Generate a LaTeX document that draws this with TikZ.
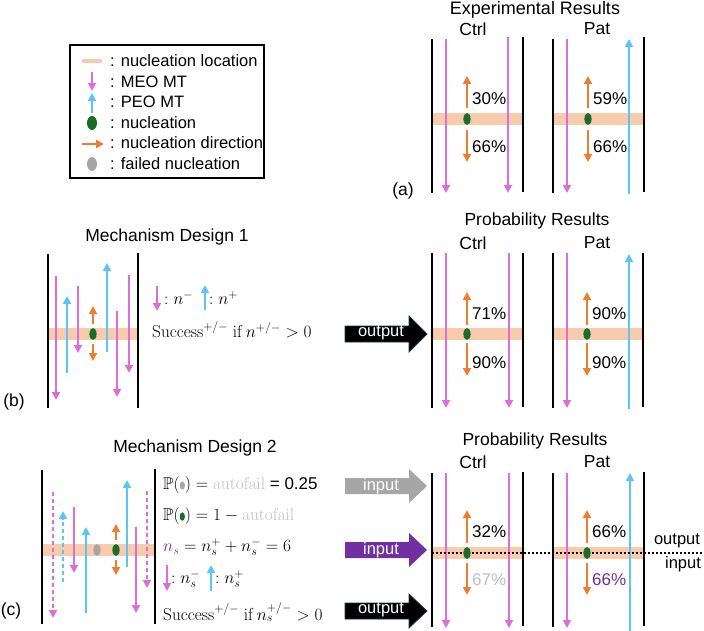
\documentclass[tikz,border=0pt]{standalone}
\usepackage{amsmath,amssymb}
\usepackage[no-math]{fontspec}
\setmainfont{Liberation Sans}
\usetikzlibrary{arrows.meta}
\definecolor{meoc}{HTML}{DA6FD6}
\definecolor{peoc}{HTML}{5CC5F2}
\definecolor{oric}{HTML}{ED7D31}
\definecolor{bandc}{HTML}{F8CBAD}
\definecolor{nucc}{HTML}{1B6B2A}
\definecolor{failc}{HTML}{A6A6A6}
\definecolor{afc}{HTML}{BFBFBF}
\definecolor{purc}{HTML}{7030A0}
\definecolor{arrowbd}{HTML}{1F3A4A}
\newcommand{\dotsym}[1]{\tikz[baseline=-3.8pt]\fill[#1] (0pt,0pt) ellipse (2.6pt and 4.2pt);}
\begin{document}
\begin{tikzpicture}[x=1pt,y=-1pt,
  wall/.style={line width=2pt,black},
  meo/.style={draw=meoc,line width=1.8pt,-{Triangle[width=8pt,length=8pt]}},
  peo/.style={draw=peoc,line width=1.8pt,-{Triangle[width=8pt,length=8pt]}},
  ndir/.style={draw=oric,line width=1.8pt,-{Triangle[width=8pt,length=8pt]}},
  dsh/.style={dash pattern=on 4pt off 3pt},
  lab/.style={font=\fontsize{16.5}{19}\selectfont, inner sep=0pt},
  ttl/.style={font=\fontsize{17.5}{20}\selectfont, inner sep=0pt},
  pct/.style={font=\fontsize{17}{20}\selectfont, inner sep=0pt, anchor=west},
  mth/.style={font=\fontsize{17}{20}\selectfont, inner sep=0pt, anchor=west},
  barrow/.style={line width=0.8pt},
]
\useasboundingbox (0,0) rectangle (704,631);

% ---------------- Legend ----------------
\draw[line width=2pt] (70,45) rectangle (264,178);
\draw[bandc,line width=4pt] (82,61) -- (102,61);
\draw[meo] (92,72) -- (92,91);
\draw[peo] (92,113) -- (92,93);
\fill[nucc] (92,123) ellipse (5pt and 7pt);
\draw[ndir] (82,144) -- (104,144);
\fill[failc] (92,164) ellipse (5pt and 7pt);
\node[lab,anchor=west] (l1) at (110,61) {: nucleation location};
\node[lab,anchor=west] (l2) at (110,82) {: MEO MT};
\node[lab,anchor=west] (l3) at (110,102) {: PEO MT};
\node[lab,anchor=west] (l4) at (110,123) {: nucleation};
\node[lab,anchor=west] (l5) at (110,143) {: nucleation direction};
\node[lab,anchor=west] (l6) at (110,164) {: failed nucleation};

% ---------------- (a) Experimental ----------------
\node[ttl,font=\fontsize{18}{21}\selectfont,anchor=base] (tA) at (535,15) {Experimental Results};
\node[ttl] (tAc) at (473,29) {Ctrl};
\node[ttl] (tAp) at (597,29) {Pat};
\node[ttl] (la) at (403,191) {(a)};
% Ctrl
\fill[bandc] (432,113) rectangle (523,125);
\draw[meo] (446,39) -- (446,193);
\draw[meo] (508,37) -- (508,193);
\fill[nucc] (467,119) ellipse (3.6pt and 6pt);
\draw[ndir] (467,108) -- (467,76);
\draw[ndir] (467,130) -- (467,162);
\draw[wall] (432,39) -- (432,193);
\draw[wall] (523,37) -- (523,192);
\node[pct] (a1) at (472,99) {30\%};
\node[pct] (a2) at (472,147) {66\%};
% Pat
\fill[bandc] (553,113) rectangle (644,125);
\draw[meo] (567,39) -- (567,193);
\draw[peo] (629,194) -- (629,39);
\fill[nucc] (588,119) ellipse (3.6pt and 6pt);
\draw[ndir] (588,108) -- (588,76);
\draw[ndir] (588,130) -- (588,162);
\draw[wall] (553,39) -- (553,193);
\draw[wall] (644,37) -- (644,192);
\node[pct] (a3) at (593,99) {59\%};
\node[pct] (a4) at (593,147) {66\%};

% ---------------- (b) Mechanism Design 1 ----------------
\node[ttl] (tB) at (167,237) {Mechanism Design 1};
\node[ttl] (lb) at (14,402) {(b)};
\fill[bandc] (48,328) rectangle (138,340);
\draw[meo] (56,276) -- (56,400);
\draw[peo] (67,373) -- (67,296);
\draw[meo] (78,286) -- (78,353);
\fill[nucc] (93,334) ellipse (3.6pt and 6pt);
\draw[ndir] (93,324) -- (93,306);
\draw[ndir] (93,344) -- (93,361);
\draw[peo] (107,352) -- (107,263);
\draw[meo] (117,311) -- (117,397);
\draw[meo] (129,275) -- (129,373);
\draw[wall] (48,254) -- (48,408);
\draw[wall] (138,253) -- (138,408);
\draw[meo] (157,286) -- (157,311);
\node[mth] (m1) at (164,298) {$:n^-$};
\draw[peo] (205,310) -- (205,285);
\node[mth] (m2) at (209,298) {$:n^+$};
\node[mth] (m3) at (152,330) {$\mathrm{Success}^{+/-}\ \mathrm{if}\,n^{+/-} > 0$};

% output arrow (b)
\filldraw[barrow,fill=black,draw=arrowbd] (345,326) -- (409,326) -- (409,316) -- (427,334) -- (409,352) -- (409,342) -- (345,342) -- cycle;
\node[lab,text=white] (ob) at (381,333) {output};

% ---------------- (b) Probability ----------------
\node[ttl] (tBr) at (537,221) {Probability Results};
\node[ttl] (tBc) at (473,243) {Ctrl};
\node[ttl] (tBp) at (597,243) {Pat};
% Ctrl
\fill[bandc] (432,328) rectangle (523,340);
\draw[meo] (446,253) -- (446,408);
\draw[meo] (509,253) -- (509,408);
\fill[nucc] (467,334) ellipse (3.6pt and 6pt);
\draw[ndir] (467,325) -- (467,292);
\draw[ndir] (467,343) -- (467,376);
\draw[wall] (432,253) -- (432,408);
\draw[wall] (523,253) -- (523,407);
\node[pct] (b1) at (472,314) {71\%};
\node[pct] (b2) at (472,363) {90\%};
% Pat
\fill[bandc] (553,328) rectangle (643,340);
\draw[meo] (567,253) -- (567,408);
\draw[peo] (629,409) -- (629,254);
\fill[nucc] (587,334) ellipse (3.6pt and 6pt);
\draw[ndir] (587,325) -- (587,292);
\draw[ndir] (587,343) -- (587,376);
\draw[wall] (553,253) -- (553,408);
\draw[wall] (643,253) -- (643,407);
\node[pct] (b3) at (592,314) {90\%};
\node[pct] (b4) at (592,363) {90\%};

% ---------------- (c) Mechanism Design 2 ----------------
\node[ttl] (tC) at (195,448) {Mechanism Design 2};
\node[ttl] (lc) at (11,611) {(c)};
\fill[bandc] (42,544) rectangle (155,556);
\draw[meo,dsh] (53,492) -- (53,618);
\draw[peo,dsh] (63,582) -- (63,511);
\draw[meo] (74,507) -- (74,573);
\draw[peo] (86,613) -- (86,527);
\fill[failc] (97,550) ellipse (3.6pt and 6pt);
\fill[nucc] (116,550) ellipse (3.6pt and 6pt);
\draw[ndir] (116,540) -- (116,524);
\draw[ndir] (116,560) -- (116,575);
\draw[peo] (127,567) -- (127,480);
\draw[meo] (136,527) -- (136,613);
\draw[meo,dsh] (147,491) -- (147,588);
\draw[wall] (42,470) -- (42,624);
\draw[wall] (155,469) -- (155,624);
\node[mth] (c1) at (163,485) {$\mathbb{P}(\dotsym{failc}) = \textcolor{afc}{\mathrm{autofail}}$ = 0.25};
\node[mth] (c2) at (163,516) {$\mathbb{P}(\dotsym{nucc}) = 1 - \textcolor{afc}{\mathrm{autofail}}$};
\node[mth] (c3) at (163,547) {$\textcolor{purc}{n_s} = n_s^+ + n_s^- = 6$};
\draw[meo] (167,565) -- (167,591);
\node[mth] (c4) at (171,579) {$:n_s^-$};
\draw[peo] (211,591) -- (211,565);
\node[mth] (c5) at (215,579) {$:n_s^+$};
\node[mth] (c6) at (163,612) {$\mathrm{Success}^{+/-}\ \mathrm{if}\,n_s^{+/-} > 0$};

% input / output arrows (c)
\fill[failc] (345,478) -- (409,478) -- (409,469) -- (427,486) -- (409,503) -- (409,494) -- (345,494) -- cycle;
\node[lab,text=white] (ic1) at (381,486) {input};
\fill[purc] (345,542) -- (409,542) -- (409,533) -- (427,550) -- (409,567) -- (409,558) -- (345,558) -- cycle;
\node[lab,text=white] (ic2) at (381,550) {input};
\filldraw[barrow,fill=black,draw=arrowbd] (345,603) -- (409,603) -- (409,594) -- (427,611) -- (409,628) -- (409,619) -- (345,619) -- cycle;
\node[lab,text=white] (oc) at (381,610) {output};

% ---------------- (c) Probability ----------------
\node[ttl] (tCr) at (535,441) {Probability Results};
\node[ttl] (tCc) at (473,462) {Ctrl};
\node[ttl] (tCp) at (597,462) {Pat};
% Ctrl
\fill[bandc] (432,547) rectangle (523,559);
\draw[meo] (446,473) -- (446,628);
\draw[meo] (509,473) -- (509,628);
\draw[ndir] (467,543) -- (467,510);
\draw[ndir] (467,563) -- (467,595);
\draw[wall] (432,473) -- (432,627);
\draw[wall] (523,472) -- (523,626);
\node[pct] (r1) at (472,532) {32\%};
\node[pct,text=afc] (r2) at (472,580) {67\%};
% Pat
\fill[bandc] (553,547) rectangle (644,559);
\draw[meo] (567,473) -- (567,628);
\draw[peo] (630,631) -- (630,473);
\draw[ndir] (587,543) -- (587,510);
\draw[ndir] (587,563) -- (587,595);
\draw[wall] (553,473) -- (553,627);
\draw[wall] (644,472) -- (644,626);
\node[pct] (r3) at (592,532) {66\%};
\node[pct,text=purc] (r4) at (592,580) {66\%};
% dotted separator
\coordinate (ds) at (432,553);
\coordinate (de) at (704,553);
\draw[line width=2pt,dash pattern=on 2pt off 2pt] (ds) -- (de);
\fill[nucc] (467,553) ellipse (3.6pt and 6pt);
\fill[nucc] (587,553) ellipse (3.6pt and 6pt);
\node[lab] (ol) at (677,541) {output};
\node[lab] (il) at (683,564) {input};
\end{tikzpicture}
\end{document}
